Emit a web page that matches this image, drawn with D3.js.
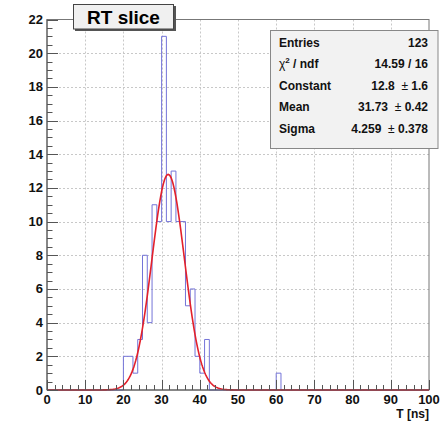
<!DOCTYPE html>
<html>
<head>
<meta charset="utf-8">
<script src="https://cdn.jsdelivr.net/npm/d3@7"></script>
<style>
  html, body { margin: 0; padding: 0; background: #fff; }
  svg { display: block; font-family: "Liberation Sans", Arial, Helvetica, sans-serif; }
  text { white-space: pre; }
</style>
</head>
<body>
<svg id="chart" width="442" height="423"></svg>
<script>
// Histogram binning (ns)
const xMin = 0, xMax = 100, binWidth = 1.25;
// Lower edges of the non-empty bins and their contents
const binLows   = [20, 21.25, 22.5, 23.75, 25, 26.25, 27.5, 28.75, 30, 31.25, 32.5, 33.75, 35, 36.25, 37.5, 38.75, 40, 41.25, 60];
const binCounts = [2,  2,     1,    3,     8,  4,     11,   10,    21, 10,    13,   10,    10, 5,     6,    2,     1,  3,     1];

// Gaussian fit parameters
const fitConstant = 12.8, fitMean = 31.73, fitSigma = 4.259;

// Axis ticks
const xTicks = [0, 10, 20, 30, 40, 50, 60, 70, 80, 90, 100];
const yTicks = [0, 2, 4, 6, 8, 10, 12, 14, 16, 18, 20, 22];

// Statistics box
const statsLabels = ["Entries", "χ2 / ndf", "Constant", "Mean", "Sigma"];
const statsValues = ["123", "14.59 / 16", "12.8  ± 1.6", "31.73  ± 0.42", "4.259  ± 0.378"];

const title = "RT slice";
const xTitle = "T [ns]";

const svg = d3.select("#chart");
const frame = { left: 47, right: 429, top: 19.5, bottom: 390 };

const x = d3.scaleLinear().domain([xMin, xMax]).range([frame.left, frame.right]);
const y = d3.scaleLinear().domain([0, 22]).range([frame.bottom, frame.top]);

// Grid
const grid = svg.append("g").attr("stroke", "#c8c8c8").attr("stroke-width", 1).attr("stroke-dasharray", "2,2");
xTicks.slice(1, -1).forEach(v => {
  grid.append("line").attr("x1", Math.round(x(v)) + 0.5).attr("x2", Math.round(x(v)) + 0.5)
    .attr("y1", frame.top).attr("y2", frame.bottom);
});
yTicks.slice(1, -1).forEach(v => {
  grid.append("line").attr("y1", Math.round(y(v)) + 0.5).attr("y2", Math.round(y(v)) + 0.5)
    .attr("x1", frame.left).attr("x2", frame.right);
});

// Frame
svg.append("rect").attr("x", frame.left).attr("y", frame.top)
  .attr("width", frame.right - frame.left).attr("height", frame.bottom - frame.top)
  .attr("fill", "none").attr("stroke", "#777").attr("stroke-width", 1);

// Full bin contents
const nBins = Math.round((xMax - xMin) / binWidth);
const contents = new Array(nBins).fill(0);
binLows.forEach((lo, i) => { contents[Math.round((lo - xMin) / binWidth)] = binCounts[i]; });

// Histogram outline as a step path
let pts = [[xMin, 0]];
contents.forEach((c, i) => {
  const lo = xMin + i * binWidth, hi = lo + binWidth;
  pts.push([lo, c]); pts.push([hi, c]);
});
pts.push([xMax, 0]);
svg.append("path")
  .attr("d", d3.line().x(d => x(d[0])).y(d => y(d[1]))(pts))
  .attr("fill", "none").attr("stroke", "#7474d8").attr("stroke-width", 1);

// Gaussian fit curve
const gx = d3.range(xMin, xMax + 0.001, 0.25);
const gauss = v => fitConstant * Math.exp(-0.5 * Math.pow((v - fitMean) / fitSigma, 2));
svg.append("path")
  .attr("d", d3.line().x(v => x(v)).y(v => y(gauss(v)))(gx))
  .attr("fill", "none").attr("stroke", "#e3202b").attr("stroke-width", 1.6);

// Axes (ticks drawn inside the frame)
const axisG = svg.append("g").attr("stroke", "#555").attr("stroke-width", 1);
axisG.append("line").attr("x1", frame.left).attr("x2", frame.right).attr("y1", frame.bottom).attr("y2", frame.bottom);
axisG.append("line").attr("x1", frame.left).attr("x2", frame.left).attr("y1", frame.top).attr("y2", frame.bottom);

d3.range(xMin, xMax + 0.001, 2).forEach(v => {
  const major = v % 10 === 0;
  const px = Math.round(x(v)) + 0.5;
  axisG.append("line").attr("x1", px).attr("x2", px)
    .attr("y1", frame.bottom).attr("y2", frame.bottom - (major ? 10 : 5));
});
d3.range(0, 22.001, 0.5).forEach(v => {
  const major = Math.abs(v % 2) < 1e-9;
  const py = Math.round(y(v)) + 0.5;
  axisG.append("line").attr("y1", py).attr("y2", py)
    .attr("x1", frame.left).attr("x2", frame.left + (major ? 11 : 5.5));
});

// Tick labels
svg.append("g").selectAll("text").data(xTicks).join("text")
  .attr("x", d => x(d)).attr("y", frame.bottom + 13.8)
  .attr("text-anchor", "middle").attr("font-size", 13).attr("font-weight", "bold").attr("fill", "#111")
  .text(d => d);
svg.append("g").selectAll("text").data(yTicks).join("text")
  .attr("x", frame.left - 4).attr("y", d => y(d) + 4.5)
  .attr("text-anchor", "end").attr("font-size", 13).attr("font-weight", "bold").attr("fill", "#111")
  .text(d => d);

// Axis title
svg.append("text").attr("x", frame.right).attr("y", 417.5)
  .attr("text-anchor", "end").attr("font-size", 12).attr("font-weight", "bold").attr("fill", "#111")
  .text(xTitle);

// Title box
const tb = svg.append("g");
tb.append("rect").attr("x", 75).attr("y", 6).attr("width", 101).attr("height", 25).attr("fill", "#555");
tb.append("rect").attr("x", 73.5).attr("y", 4.5).attr("width", 100).attr("height", 24.5)
  .attr("fill", "#f0f0f0").attr("stroke", "#444").attr("stroke-width", 1);
tb.append("text").attr("x", 123.5).attr("y", 23.5).attr("text-anchor", "middle")
  .attr("font-size", 19).attr("font-weight", "bold").attr("fill", "#000").text(title);

// Statistics box
const sb = svg.append("g");
sb.append("rect").attr("x", 270.5).attr("y", 30.5).attr("width", 167.5).attr("height", 118)
  .attr("fill", "#f2f2f2").attr("stroke", "#888").attr("stroke-width", 1);
statsLabels.forEach((lab, i) => {
  const by = 47 + i * 21.4;
  const t = sb.append("text").attr("x", 279).attr("y", by)
    .attr("font-size", 12).attr("font-weight", "bold").attr("fill", "#111");
  if (lab.startsWith("χ2")) {
    t.append("tspan").attr("font-weight", "normal").text("χ");
    t.append("tspan").attr("font-size", 8).attr("dy", -5).text("2");
    t.append("tspan").attr("dy", 5).text(" / ndf");
  } else {
    t.text(lab);
  }
  const val = statsValues[i];
  const vt = sb.append("text").attr("x", 428).attr("y", by).attr("text-anchor", "end")
    .attr("font-size", 12).attr("font-weight", "bold").attr("fill", "#111");
  const parts = val.split("±");
  if (parts.length === 2) {
    vt.append("tspan").text(parts[0]);
    vt.append("tspan").attr("font-weight", "normal").text("±");
    vt.append("tspan").text(parts[1]);
  } else {
    vt.text(val);
  }
});
</script>
</body>
</html>
